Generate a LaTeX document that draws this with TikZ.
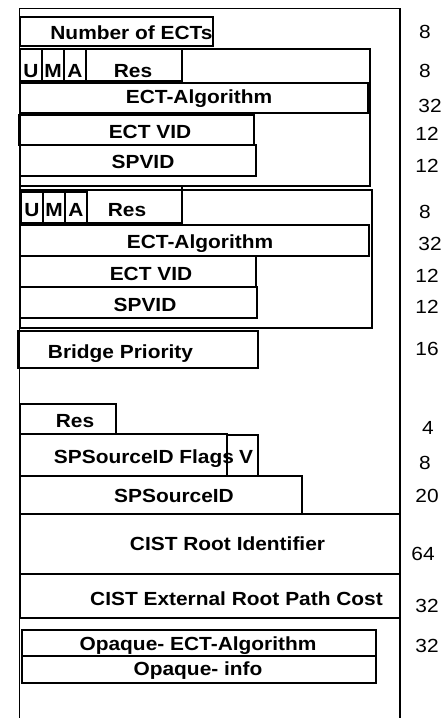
\documentclass[tikz,border=0pt]{standalone}
\usepackage{fontspec}
\usepackage{graphicx}
\newfontfamily\lsans{Liberation Sans}
\newfontfamily\lbold{Liberation Sans Bold}
\newcommand\wide[1]{\scalebox{1.1}[1]{#1}}
\tikzset{
  fld/.style={draw=black, line width=1.8pt, inner sep=0pt, outer sep=0pt, anchor=north west},
  lbl/.style={font=\lbold\fontsize{19}{21}\selectfont, inner sep=0pt, anchor=base},
  num/.style={font=\lsans\fontsize{19}{21}\selectfont, inner sep=0pt, anchor=base},
  outer/.style={draw=black, line width=1.3pt}
}
\newcommand\fieldbox[5]{\node[fld, minimum width={(#4-#2)*1pt}, minimum height={(#5-#3)*1pt}] (#1) at (#2,#3) {};}
\begin{document}
\begin{tikzpicture}[x=1pt,y=-1pt]
\useasboundingbox (0,0) rectangle (446,718);
% outer frame (open at bottom)
\coordinate (ob1) at (19.5,720);
\coordinate (ot1) at (19.5,8.3);
\coordinate (ot2) at (400,8.3);
\coordinate (ob2) at (400,720);
\draw[outer] (ob1) -- (ot1) -- (ot2) -- (ob2);
% boxes
\fieldbox{nect}{20}{17}{213}{46}
\fieldbox{gA}{20}{49}{370}{186}
\fieldbox{gAres}{20}{49}{182}{81}
\fieldbox{gAu}{20}{49}{42}{81}
\fieldbox{gAm}{42}{49}{64}{81}
\fieldbox{gAa}{64}{49}{86}{81}
\fieldbox{gAalg}{20}{83}{368}{113}
\fieldbox{gAvid}{19}{115}{254}{145}
\fieldbox{gAsp}{20}{145}{256}{176}
\fieldbox{gB}{20}{190}{372}{328}
\fieldbox{gBres}{20}{186}{182}{223}
\fieldbox{gBu}{21}{192}{43}{223}
\fieldbox{gBm}{43}{192}{65}{223}
\fieldbox{gBa}{65}{192}{87}{223}
\fieldbox{gBalg}{20}{225}{369}{256}
\fieldbox{gBvid}{20}{256}{256}{287}
\fieldbox{gBsp}{20}{287}{257}{318}
\fieldbox{bprio}{18}{331}{258}{368}
\fieldbox{resC}{20}{404}{116}{434}
\fieldbox{flags}{20}{434}{227}{476}
\fieldbox{vflag}{227}{435}{258}{476}
\fieldbox{spsrc}{20}{476}{302}{514}
\fieldbox{croot}{20}{514}{400}{574}
\fieldbox{cext}{20}{574}{400}{618}
\fieldbox{opalg}{22}{630}{376}{656}
\fieldbox{opinfo}{22}{656}{376}{683}
% labels
\node[lbl] (tnect) at (131.5,39) {\wide{Number of ECTs}};
\node[lbl] (tAu) at (31,77) {\wide{U}};
\node[lbl] (tAm) at (53,77) {\wide{M}};
\node[lbl] (tAa) at (75,77) {\wide{A}};
\node[lbl] (tAres) at (133,77) {\wide{Res}};
\node[lbl] (tAalg) at (199,103) {\wide{ECT-Algorithm}};
\node[lbl] (tAvid) at (150,138) {\wide{ECT VID}};
\node[lbl] (tAsp) at (143,168) {\wide{SPVID}};
\node[lbl] (tBu) at (32,216) {\wide{U}};
\node[lbl] (tBm) at (54,216) {\wide{M}};
\node[lbl] (tBa) at (76,216) {\wide{A}};
\node[lbl] (tBres) at (127,216) {\wide{Res}};
\node[lbl] (tBalg) at (200,248) {\wide{ECT-Algorithm}};
\node[lbl] (tBvid) at (151,280) {\wide{ECT VID}};
\node[lbl] (tBsp) at (145,311) {\wide{SPVID}};
\node[lbl] (tbprio) at (120.5,358) {\wide{Bridge Priority}};
\node[lbl] (tresC) at (75,427) {\wide{Res}};
\node[lbl] (tflags) at (144,463) {\wide{SPSourceID Flags}};
\node[lbl] (tv) at (246,463) {\wide{V}};
\node[lbl] (tspsrc) at (174,502) {\wide{SPSourceID}};
\node[lbl] (tcroot) at (227.5,550) {\wide{CIST Root Identifier}};
\node[lbl] (tcext) at (236.5,605) {\wide{CIST External Root Path Cost}};
\node[lbl] (topalg) at (198,650) {\wide{Opaque- ECT-Algorithm}};
\node[lbl] (topinfo) at (198,675) {\wide{Opaque- info}};
% bit counts
\node[num] (n1) at (425,38) {\wide{8}};
\node[num] (n2) at (425,77) {\wide{8}};
\node[num] (n3) at (430,112) {\wide{32}};
\node[num] (n4) at (427,140) {\wide{12}};
\node[num] (n5) at (427,172) {\wide{12}};
\node[num] (n6) at (425,218) {\wide{8}};
\node[num] (n7) at (430,250) {\wide{32}};
\node[num] (n8) at (427,282) {\wide{12}};
\node[num] (n9) at (427,313) {\wide{12}};
\node[num] (n10) at (427,355) {\wide{16}};
\node[num] (n11) at (428,434) {\wide{4}};
\node[num] (n12) at (425,469) {\wide{8}};
\node[num] (n13) at (427,502) {\wide{20}};
\node[num] (n14) at (423,560) {\wide{64}};
\node[num] (n15) at (427,612) {\wide{32}};
\node[num] (n16) at (427,652) {\wide{32}};
\end{tikzpicture}
\end{document}
